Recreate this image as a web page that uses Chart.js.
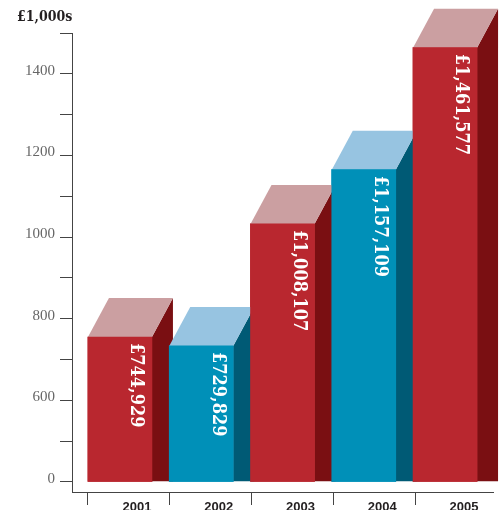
<!DOCTYPE html>
<html>
<head>
<meta charset="utf-8">
<style>
  html, body { margin: 0; padding: 0; background: #fff; }
  canvas { display: block; }
</style>
<script src="https://cdn.jsdelivr.net/npm/chart.js@4"></script>
</head>
<body>
<canvas id="myChart" width="502" height="510"></canvas>
<script>
const years = [2001, 2002, 2003, 2004, 2005];
// bar heights as read on the chart's own (broken) axis
const barValues = [755, 733, 1032, 1165, 1464];
const barLabels = ["£744,929", "£729,829", "£1,008,107", "£1,157,109", "£1,461,577"];
const yTicks = [400, 500, 600, 700, 800, 900, 1000, 1100, 1200, 1300, 1400, 1500];
const yTickLabels = ["0", "", "600", "", "800", "", "1000", "", "1200", "", "1400", ""];
const xTicks = [2000.606, 2001.612, 2002.618, 2003.625, 2004.631];
const frontColors = ["#b9272f", "#0090b8", "#b9272f", "#0090b8", "#b9272f"];
const sideColors = ["#7a0f12", "#005a75", "#7a0f12", "#005a75", "#7a0f12"];
const topColors = ["#cb9fa1", "#97c4e1", "#cb9fa1", "#97c4e1", "#cb9fa1"];

const depthX = 21;
const depthY = 39;

function poly(ctx, color, pts) {
  ctx.fillStyle = color;
  ctx.beginPath();
  pts.forEach((p, i) => (i ? ctx.lineTo(p[0], p[1]) : ctx.moveTo(p[0], p[1])));
  ctx.closePath();
  ctx.fill();
}

// side and top faces, then the front again so later bars cover earlier ones
const blocks = {
  id: "blocks",
  afterDatasetsDraw(chart) {
    const ctx = chart.ctx;
    chart.getDatasetMeta(0).data.forEach((bar, i) => {
      const left = bar.x - bar.width / 2;
      const right = bar.x + bar.width / 2;
      poly(ctx, sideColors[i], [
        [right, bar.y],
        [right + depthX, bar.y - depthY],
        [right + depthX, bar.base],
        [right, bar.base],
      ]);
      poly(ctx, topColors[i], [
        [left, bar.y],
        [left + depthX, bar.y - depthY],
        [right + depthX, bar.y - depthY],
        [right, bar.y],
      ]);
      bar.draw(ctx);

      ctx.save();
      ctx.translate(right - 16, bar.y + 6);
      ctx.rotate(Math.PI / 2);
      ctx.fillStyle = "#fff";
      ctx.font = 'bold 18px "DejaVu Serif Condensed", "DejaVu Serif"';
      ctx.textAlign = "left";
      ctx.textBaseline = "middle";
      ctx.fillText(barLabels[i], 0, 0);
      ctx.restore();
    });

    ctx.save();
    ctx.fillStyle = "#231f20";
    ctx.font = 'bold 14px "DejaVu Serif Condensed", "DejaVu Serif"';
    ctx.textAlign = "left";
    ctx.textBaseline = "middle";
    ctx.fillText("£1,000s", 17, 17);
    ctx.restore();
  },
};

new Chart(document.getElementById("myChart"), {
  type: "bar",
  data: {
    datasets: [
      {
        data: years.map((y, i) => ({ x: y, y: barValues[i] })),
        base: 400,
        backgroundColor: frontColors,
        borderWidth: 0,
        barThickness: 64,
      },
    ],
  },
  plugins: [blocks],
  options: {
    responsive: false,
    animation: false,
    devicePixelRatio: 1,
    layout: { padding: { top: 33, right: 9, left: 0, bottom: 0 } },
    scales: {
      x: {
        type: "linear",
        offset: false,
        min: 2000.41,
        max: 2005.59,
        afterBuildTicks: (axis) => {
          axis.ticks = xTicks.map((v) => ({ value: v }));
        },
        afterFit: (axis) => {
          axis.height = 18;
        },
        border: { color: "#444", width: 1 },
        grid: { offset: false, drawOnChartArea: false, tickLength: 13, tickColor: "#444", tickWidth: 1 },
        ticks: {
          autoSkip: false,
          maxRotation: 0,
          padding: -5,
          labelOffset: 49,
          color: "#231f20",
          font: { family: "Liberation Sans", size: 13, weight: "bold" },
          callback: (v, i) => String(years[i]),
        },
      },
      y: {
        min: 375,
        max: 1500,
        afterBuildTicks: (axis) => {
          axis.ticks = yTicks.map((v) => ({ value: v }));
        },
        afterFit: (axis) => {
          axis.width = 72;
        },
        border: { color: "#444", width: 1 },
        grid: { drawOnChartArea: false, tickLength: 12, tickColor: "#444", tickWidth: 1 },
        ticks: {
          autoSkip: false,
          padding: 5,
          labelOffset: -3,
          color: "#666",
          font: { family: "Liberation Serif", size: 15 },
          callback: (v, i) => yTickLabels[i],
        },
      },
    },
    plugins: {
      legend: { display: false },
      tooltip: { enabled: false },
    },
  },
});
</script>
</body>
</html>
